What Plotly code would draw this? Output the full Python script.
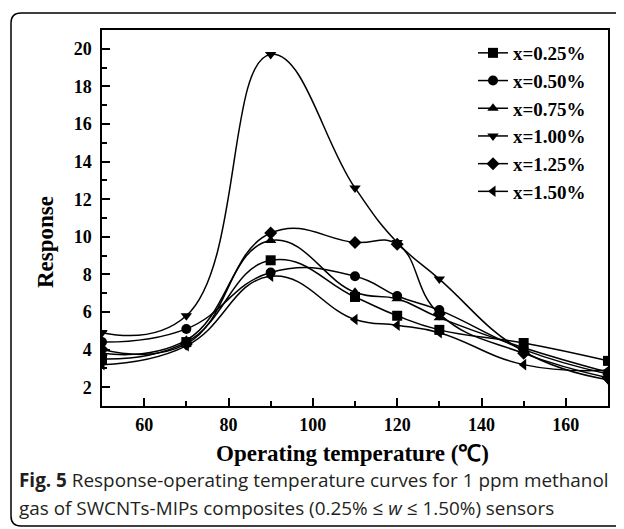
import plotly.graph_objects as go

# ---- data ----
temperature = [50, 70, 90, 110, 120, 130, 150, 170]
series_names = ["x=0.25%", "x=0.50%", "x=0.75%", "x=1.00%", "x=1.25%", "x=1.50%"]
resp_025 = [3.5, 4.4, 8.75, 6.8, 5.8, 5.05, 4.35, 3.4]
resp_050 = [4.4, 5.1, 8.1, 7.9, 6.85, 6.1, 4.0, 2.7]
resp_075 = [3.8, 4.5, 9.8, 7.05, 6.7, 5.7, 4.1, 2.8]
resp_100 = [4.9, 5.8, 19.7, 12.6, 9.7, 7.75, 3.9, 2.4]
resp_125 = [4.0, 4.3, 10.2, 9.7, 9.6, 5.9, 3.8, 2.5]
resp_150 = [3.2, 4.2, 7.9, 5.6, 5.3, 4.9, 3.2, 2.9]
series_values = [resp_025, resp_050, resp_075, resp_100, resp_125, resp_150]
markers = ["square", "circle", "triangle-up", "triangle-down", "diamond", "triangle-left"]

# page has an 8px body margin, so the figure is 8px smaller on each axis
W, H = 616, 521
L, R, T, B = 94, 16, 22, 123
PW, PH = W - L - R, H - T - B
OFF = 8


def px(x):  # x in page pixels -> paper
    return (x - OFF - L) / PW


def py(y):  # y in page pixels -> paper
    return (H - B - (y - OFF)) / PH


fig = go.Figure()
for name, vals, sym in zip(series_names, series_values, markers):
    fig.add_trace(go.Scatter(
        x=temperature, y=vals, name=name, mode="lines+markers",
        line=dict(color="black", width=1.5, shape="spline", smoothing=1.3),
        marker=dict(symbol=sym, size=10, color="black"),
    ))

serif = "Liberation Serif"
tickfont = dict(family=serif, size=18, color="black", weight="bold")

fig.update_xaxes(
    range=[50, 170], dtick=20, tick0=0, ticks="inside", ticklen=8, tickwidth=1.5,
    tickcolor="black", showline=True, linecolor="black", linewidth=1.5, mirror=True,
    showgrid=False, zeroline=False, tickfont=tickfont, ticklabelstandoff=2,
    minor=dict(dtick=10, tick0=0, ticks="inside", ticklen=5, tickwidth=1.5, tickcolor="black", showgrid=False),
)
fig.update_yaxes(
    range=[1, 21], dtick=2, tick0=0, ticks="inside", ticklen=8, tickwidth=1.5,
    tickcolor="black", showline=True, linecolor="black", linewidth=1.5, mirror=True,
    showgrid=False, zeroline=False, tickfont=tickfont, ticklabelstandoff=5,
    minor=dict(dtick=1, tick0=0, ticks="inside", ticklen=5, tickwidth=1.5, tickcolor="black", showgrid=False),
)

# outer rounded border (page pixel coordinates)
x0, y0, x1, y1, r = 11, 13, 650, 526, 10
path = (
    f"M {px(x0)},{py(y0 + r)} Q {px(x0)},{py(y0)} {px(x0 + r)},{py(y0)} "
    f"L {px(x1)},{py(y0)} L {px(x1)},{py(y1)} L {px(x0 + r)},{py(y1)} "
    f"Q {px(x0)},{py(y1)} {px(x0)},{py(y1 - r)} Z"
)
fig.add_shape(type="path", path=path, xref="paper", yref="paper",
              line=dict(color="black", width=1.5), layer="below")

annotations = [
    dict(text="<b>Response</b>", x=px(45), y=py(242), textangle=-90,
         font=dict(family=serif, size=23, color="black")),
    dict(text="<b>Operating temperature (℃)</b>", x=px(352), y=py(453),
         font=dict(family=serif, size=23, color="black")),
    dict(text="<b>Fig. 5</b> Response-operating temperature curves for 1 ppm methanol",
         x=px(17), y=py(480), xanchor="left",
         font=dict(family="Open Sans", size=18.9, color="#231f20")),
    dict(text="gas of SWCNTs-MIPs composites (0.25% ≤ <i>w</i> ≤ 1.50%) sensors",
         x=px(17), y=py(508), xanchor="left",
         font=dict(family="Open Sans", size=18.9, color="#231f20")),
]
for a in annotations:
    a.update(xref="paper", yref="paper", showarrow=False, yanchor="middle")
    a.setdefault("xanchor", "center")

fig.update_layout(
    width=W, height=H, margin=dict(l=L, r=R, t=T, b=B),
    paper_bgcolor="white", plot_bgcolor="white",
    annotations=annotations,
    showlegend=True,
    legend=dict(x=px(473), y=py(34), xanchor="left", yanchor="top",
                bgcolor="rgba(0,0,0,0)", borderwidth=0, itemwidth=30,
                font=dict(family=serif, size=19, color="black", weight="bold")),
)

fig.write_html("out.html")
